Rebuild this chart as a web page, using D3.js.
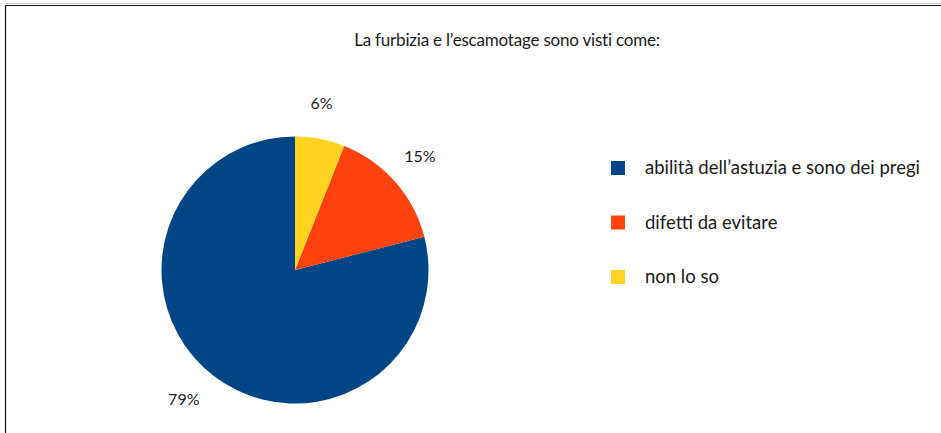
<!DOCTYPE html>
<html>
<head>
<meta charset="utf-8">
<script src="https://cdn.jsdelivr.net/npm/d3@7"></script>
<style>
  html, body { margin: 0; padding: 0; background: #fff; }
  svg { display: block; }
  text { font-family: Lato, "Noto Sans", sans-serif; fill: #1a1a1a; }
</style>
</head>
<body>
<svg id="chart" width="941" height="433"></svg>
<script>
const title = "La furbizia e l\u2019escamotage sono visti come:";
const categories = ["abilit\u00e0 dell\u2019astuzia e sono dei pregi", "difetti da evitare", "non lo so"];
const values = [79, 15, 6];
const colors = ["#004586", "#ff420e", "#ffd320"];

const svg = d3.select("#chart");
const W = 941, H = 433;

// frame
svg.append("line").attr("x1", 5).attr("x2", W).attr("y1", 3.5).attr("y2", 3.5)
  .attr("stroke", "#c8c8c8").attr("stroke-width", 1);
svg.append("line").attr("x1", 5).attr("x2", W).attr("y1", 5.5).attr("y2", 5.5)
  .attr("stroke", "#111").attr("stroke-width", 1.2);
svg.append("line").attr("x1", 5.5).attr("x2", 5.5).attr("y1", 5).attr("y2", H)
  .attr("stroke", "#111").attr("stroke-width", 1.2);

// title
svg.append("text").attr("x", 507).attr("y", 46).attr("text-anchor", "middle")
  .style("font-size", "17px").style("letter-spacing", "-0.2px").text(title);

// pie
const cx = 295, cy = 270, r = 133.5;
const color = d3.scaleOrdinal().domain(categories).range(colors);
const items = categories.map((c, i) => ({ cat: c, value: values[i] }));
// drawn counter-clockwise from 12 o'clock in legend order
const pie = d3.pie().sort(null).value(d => d.value)
  .startAngle(2 * Math.PI).endAngle(0);
const arcs = pie(items);
const arc = d3.arc().innerRadius(0).outerRadius(r);
const g = svg.append("g").attr("transform", `translate(${cx},${cy})`);
g.selectAll("path").data(arcs).join("path")
  .attr("d", arc).attr("fill", d => color(d.data.cat));

// labels
const total = d3.sum(values);
const lbl = g.selectAll("text.lbl").data(arcs).join("text").attr("class", "lbl")
  .style("font-size", "16px")
  .text(d => Math.round(d.data.value / total * 100) + "%");
lbl.each(function(d) {
  const a = (d.startAngle + d.endAngle) / 2;
  const s = Math.sin(a), c = -Math.cos(a);
  const bb = this.getBBox();
  const R = r + 24;
  const px = R * s + s * bb.width / 2 - 5;
  const py = R * c + c * bb.height / 2 - 3;
  d3.select(this).attr("text-anchor", "middle")
    .attr("x", px).attr("y", py).attr("dy", "0.35em");
});

// legend
const leg = svg.append("g").attr("transform", "translate(611,168)");
const row = leg.selectAll("g").data(categories).join("g")
  .attr("transform", (d, i) => `translate(0,${i * 54.5})`);
row.append("rect").attr("x", 0).attr("y", -7).attr("width", 14).attr("height", 14)
  .attr("fill", d => color(d));
row.append("text").attr("x", 34).attr("y", 0).attr("dy", "0.35em")
  .style("font-size", "18.5px").text(d => d);
</script>
</body>
</html>
